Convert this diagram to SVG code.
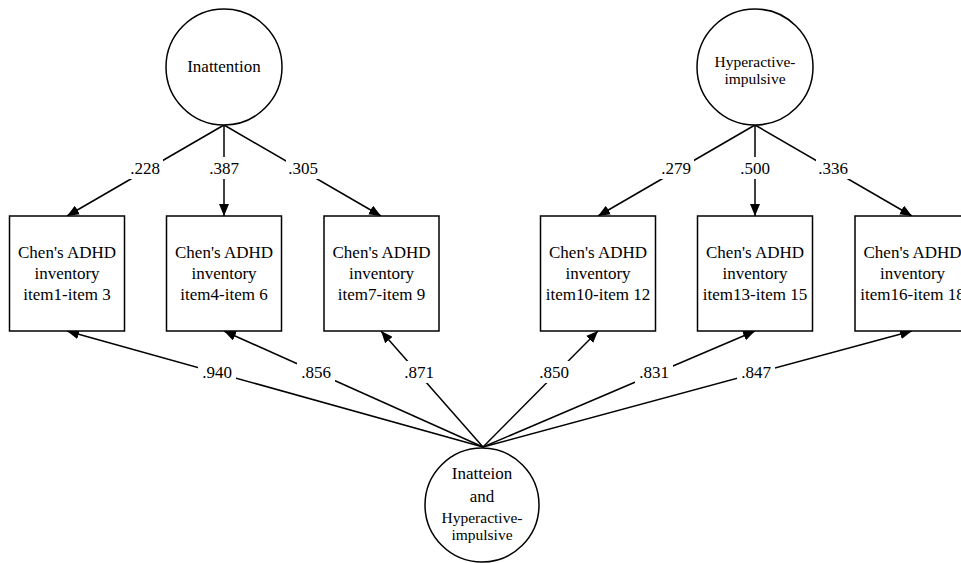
<svg xmlns="http://www.w3.org/2000/svg" width="961" height="563" viewBox="0 0 961 563">
<style>
.n{fill:#fff;stroke:#000;stroke-width:1.5}
.t{font-family:"Liberation Serif","Times New Roman",serif;font-size:17px;fill:#000;text-anchor:middle}
.s{font-size:15.5px}
.c line{stroke:#000;stroke-width:1.5}
.bg{fill:#fff;stroke:none}
</style>
<defs>
<marker id="ah" viewBox="0 0 12 10" refX="12" refY="5" markerWidth="12" markerHeight="10" markerUnits="userSpaceOnUse" orient="auto">
<path d="M0,0 L12,5 L0,10 z" fill="#000"/>
</marker>
</defs>
<g id="connectors" class="c">
<line x1="224" y1="125" x2="67" y2="216" marker-end="url(#ah)"/>
<line x1="224" y1="125" x2="224" y2="216" marker-end="url(#ah)"/>
<line x1="224" y1="125" x2="381" y2="216" marker-end="url(#ah)"/>
<line x1="755" y1="125" x2="598" y2="216" marker-end="url(#ah)"/>
<line x1="755" y1="125" x2="755" y2="216" marker-end="url(#ah)"/>
<line x1="755" y1="125" x2="912" y2="216" marker-end="url(#ah)"/>
<line x1="483" y1="447" x2="67" y2="331" marker-end="url(#ah)"/>
<line x1="483" y1="447" x2="224" y2="331" marker-end="url(#ah)"/>
<line x1="483" y1="447" x2="381" y2="331" marker-end="url(#ah)"/>
<line x1="483" y1="447" x2="598" y2="331" marker-end="url(#ah)"/>
<line x1="483" y1="447" x2="755" y2="331" marker-end="url(#ah)"/>
<line x1="483" y1="447" x2="912" y2="331" marker-end="url(#ah)"/>
<g id="labels">
<rect class="bg" x="128" y="157" width="35" height="22"/><text class="t" x="145" y="174">.228</text>
<rect class="bg" x="207" y="157" width="35" height="22"/><text class="t" x="224" y="174">.387</text>
<rect class="bg" x="286" y="157" width="35" height="22"/><text class="t" x="303" y="174">.305</text>
<rect class="bg" x="659" y="157" width="35" height="22"/><text class="t" x="676" y="174">.279</text>
<rect class="bg" x="737" y="157" width="35" height="22"/><text class="t" x="755" y="174">.500</text>
<rect class="bg" x="816" y="157" width="35" height="22"/><text class="t" x="833" y="174">.336</text>
<rect class="bg" x="198" y="361" width="38" height="22"/><text class="t" x="217" y="378">.940</text>
<rect class="bg" x="297" y="361" width="38" height="22"/><text class="t" x="316" y="378">.856</text>
<rect class="bg" x="401" y="361" width="36" height="22"/><text class="t" x="419" y="378">.871</text>
<rect class="bg" x="535" y="361" width="38" height="22"/><text class="t" x="554" y="378">.850</text>
<rect class="bg" x="635" y="361" width="38" height="22"/><text class="t" x="654" y="378">.831</text>
<rect class="bg" x="737" y="361" width="38" height="22"/><text class="t" x="756" y="378">.847</text>
</g>
</g>
<g id="inattention">
<circle class="n" cx="224" cy="67" r="58"/>
<text class="t" x="224" y="72">Inattention</text>
</g>
<g id="hyperactive">
<circle class="n" cx="755" cy="67" r="58"/>
<text class="t s" x="755" y="67">Hyperactive-</text>
<text class="t s" x="755" y="84">impulsive</text>
</g>
<g id="item1-3">
<rect class="n" x="9.5" y="216" width="115" height="115"/>
<text class="t" x="67" y="258">Chen's ADHD</text>
<text class="t" x="67" y="279">inventory</text>
<text class="t" x="67" y="300">item1-item 3</text>
</g>
<g id="item4-6">
<rect class="n" x="166.5" y="216" width="115" height="115"/>
<text class="t" x="224" y="258">Chen's ADHD</text>
<text class="t" x="224" y="279">inventory</text>
<text class="t" x="224" y="300">item4-item 6</text>
</g>
<g id="item7-9">
<rect class="n" x="324" y="216" width="115" height="115"/>
<text class="t" x="381.5" y="258">Chen's ADHD</text>
<text class="t" x="381.5" y="279">inventory</text>
<text class="t" x="381.5" y="300">item7-item 9</text>
</g>
<g id="item10-12">
<rect class="n" x="540.5" y="216" width="115" height="115"/>
<text class="t" x="598" y="258">Chen's ADHD</text>
<text class="t" x="598" y="279">inventory</text>
<text class="t" x="598" y="300">item10-item 12</text>
</g>
<g id="item13-15">
<rect class="n" x="697.5" y="216" width="115" height="115"/>
<text class="t" x="755" y="258">Chen's ADHD</text>
<text class="t" x="755" y="279">inventory</text>
<text class="t" x="755" y="300">item13-item 15</text>
</g>
<g id="item16-18">
<rect class="n" x="855" y="216" width="115" height="115"/>
<text class="t" x="912.5" y="258">Chen's ADHD</text>
<text class="t" x="912.5" y="279">inventory</text>
<text class="t" x="912.5" y="300">item16-item 18</text>
</g>
<g id="general">
<circle class="n" cx="482" cy="505" r="57"/>
<text class="t" x="482" y="479">Inatteion</text>
<text class="t" x="482" y="502">and</text>
<text class="t s" x="482" y="523">Hyperactive-</text>
<text class="t s" x="482" y="540">impulsive</text>
</g>
</svg>
